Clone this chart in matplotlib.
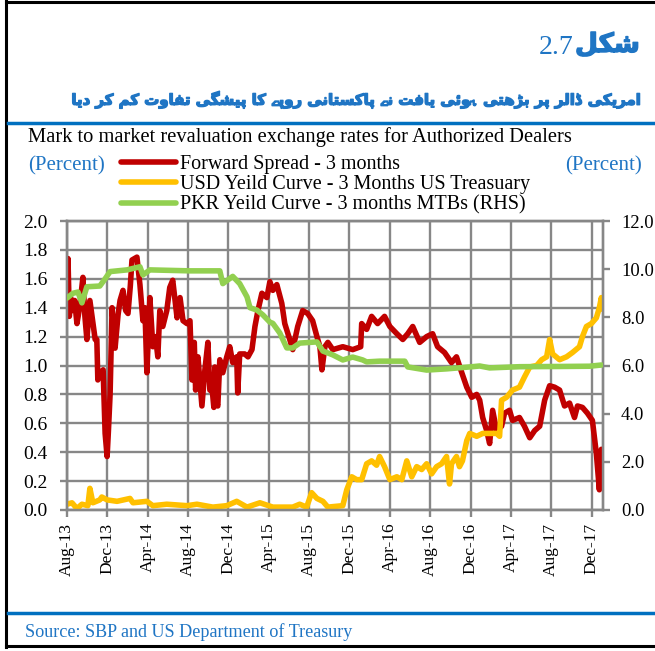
import matplotlib
matplotlib.use("Agg")
import matplotlib.pyplot as plt
import matplotlib.dates as mdates
import matplotlib.patheffects as pe
import pandas as pd
from matplotlib.lines import Line2D
from matplotlib import font_manager as fm
from matplotlib.ft2font import FT2Font

# ---------------- data ----------------
fwd_dates = [
    "2013-08-01", "2013-08-04", "2013-08-08", "2013-08-12", "2013-08-16", "2013-08-24",
    "2013-08-31", "2013-09-08", "2013-09-18", "2013-09-24", "2013-09-30", "2013-10-09",
    "2013-10-18", "2013-10-25", "2013-10-30", "2013-11-02", "2013-11-10", "2013-11-18",
    "2013-11-24", "2013-11-30", "2013-12-04", "2013-12-09", "2013-12-15", "2013-12-24",
    "2014-01-02", "2014-01-08", "2014-01-17", "2014-01-25", "2014-02-01", "2014-02-08",
    "2014-02-13", "2014-02-28", "2014-03-09", "2014-03-18", "2014-03-24", "2014-03-30",
    "2014-04-08", "2014-04-17", "2014-04-25", "2014-05-02", "2014-05-08", "2014-05-17",
    "2014-05-29", "2014-06-07", "2014-06-16", "2014-06-29", "2014-07-08", "2014-07-17",
    "2014-07-29", "2014-08-07", "2014-08-13", "2014-08-17", "2014-08-20", "2014-08-24",
    "2014-08-31", "2014-09-12", "2014-09-21", "2014-09-30", "2014-10-06", "2014-10-12",
    "2014-10-18", "2014-10-21", "2014-10-26", "2014-10-30", "2014-11-05", "2014-11-14",
    "2014-11-26", "2014-12-05", "2014-12-14", "2014-12-26", "2014-12-29", "2015-01-04",
    "2015-01-19", "2015-01-29", "2015-02-10", "2015-02-19", "2015-02-28", "2015-03-12",
    "2015-03-27", "2015-04-05", "2015-04-14", "2015-04-26", "2015-05-11", "2015-05-20",
    "2015-06-04", "2015-06-13", "2015-06-28", "2015-07-13", "2015-07-28", "2015-08-12",
    "2015-08-25", "2015-09-03", "2015-09-09", "2015-09-18", "2015-09-27", "2015-10-12",
    "2015-11-11", "2015-12-11", "2016-01-04", "2016-01-07", "2016-01-22", "2016-02-06",
    "2016-02-24", "2016-03-16", "2016-04-01", "2016-04-22", "2016-05-10", "2016-05-25",
    "2016-06-09", "2016-06-30", "2016-07-21", "2016-08-08", "2016-08-23", "2016-09-13",
    "2016-10-04", "2016-10-19", "2016-11-04", "2016-11-19", "2016-12-04", "2016-12-19",
    "2016-12-28", "2017-01-06", "2017-01-18", "2017-01-27", "2017-02-05", "2017-02-17",
    "2017-03-04", "2017-03-13", "2017-03-28", "2017-04-06", "2017-04-27", "2017-05-12",
    "2017-05-28", "2017-06-12", "2017-06-27", "2017-07-12", "2017-07-27", "2017-08-11",
    "2017-08-26", "2017-09-10", "2017-09-25", "2017-10-10", "2017-10-19", "2017-11-03",
    "2017-11-18", "2017-12-03", "2017-12-15", "2017-12-24", "2017-12-30",
]
fwd_vals = [
    1.55, 1.74, 1.34, 1.47, 1.38, 1.45,
    1.29, 1.40, 1.61, 1.34, 1.18, 1.45,
    1.30, 1.18, 1.18, 0.90, 0.95, 0.97,
    0.53, 0.37, 0.55, 0.80, 1.40, 1.12,
    1.35, 1.45, 1.52, 1.38, 1.36, 1.55,
    1.73, 1.75, 1.56, 1.31, 1.40, 0.95,
    1.47, 1.13, 1.20, 1.06, 1.38, 1.27,
    1.38, 1.54, 1.59, 1.33, 1.47, 1.31,
    1.29, 1.31, 0.90, 1.09, 1.16, 0.83,
    1.06, 0.72, 0.97, 1.16, 0.83, 0.86,
    0.71, 0.99, 0.74, 0.72, 1.04, 0.95,
    1.06, 1.13, 1.02, 1.06, 0.81, 1.08,
    1.08, 1.06, 1.11, 1.27, 1.38, 1.50,
    1.47, 1.58, 1.52, 1.56, 1.43, 1.29,
    1.18, 1.11, 1.27, 1.38, 1.36, 1.31,
    1.20, 1.13, 0.97, 1.13, 1.16, 1.11,
    1.13, 1.11, 1.13, 1.29, 1.25, 1.34,
    1.29, 1.34, 1.27, 1.22, 1.18, 1.22,
    1.27, 1.16, 1.20, 1.22, 1.13, 1.09,
    1.02, 1.06, 0.95, 0.85, 0.78, 0.80,
    0.76, 0.64, 0.55, 0.46, 0.69, 0.55,
    0.58, 0.67, 0.69, 0.62, 0.64, 0.58,
    0.50, 0.55, 0.58, 0.76, 0.86, 0.85,
    0.83, 0.72, 0.74, 0.64, 0.72, 0.71,
    0.67, 0.62, 0.39, 0.14, 0.42,
]

usd_dates = [
    "2013-08-01", "2013-08-16", "2013-08-31", "2013-09-15", "2013-10-03", "2013-10-09",
    "2013-10-18", "2013-11-08", "2013-11-14", "2013-11-30", "2013-12-30", "2014-02-07",
    "2014-02-16", "2014-03-30", "2014-04-17", "2014-05-29", "2014-07-29", "2014-08-28",
    "2014-10-15", "2014-11-26", "2014-12-26", "2015-01-26", "2015-03-06", "2015-04-14",
    "2015-06-13", "2015-07-04", "2015-07-25", "2015-08-09", "2015-08-25", "2015-09-12",
    "2015-09-27", "2015-11-11", "2015-11-23", "2015-12-08", "2015-12-23", "2016-01-07",
    "2016-01-22", "2016-02-06", "2016-02-21", "2016-03-01", "2016-03-16", "2016-04-01",
    "2016-04-22", "2016-05-07", "2016-05-22", "2016-06-06", "2016-06-21", "2016-07-06",
    "2016-07-21", "2016-08-05", "2016-08-20", "2016-09-04", "2016-09-19", "2016-09-28",
    "2016-10-04", "2016-10-19", "2016-10-28", "2016-11-06", "2016-11-19", "2016-11-28",
    "2016-12-19", "2017-01-06", "2017-01-27", "2017-02-17", "2017-02-26", "2017-03-04",
    "2017-03-19", "2017-04-06", "2017-04-27", "2017-05-12", "2017-05-28", "2017-06-18",
    "2017-07-03", "2017-07-18", "2017-07-27", "2017-08-05", "2017-08-26", "2017-09-16",
    "2017-10-04", "2017-10-25", "2017-11-03", "2017-11-15", "2017-11-30", "2017-12-15",
    "2017-12-24", "2017-12-30", "2018-01-02",
]
usd_vals = [
    0.04, 0.05, 0.01, 0.04, 0.03, 0.15,
    0.05, 0.07, 0.09, 0.07, 0.06, 0.08,
    0.05, 0.06, 0.03, 0.04, 0.03, 0.04,
    0.02, 0.03, 0.06, 0.02, 0.05, 0.02,
    0.02, 0.04, 0.02, 0.12, 0.08, 0.06,
    0.02, 0.03, 0.14, 0.23, 0.21, 0.21,
    0.32, 0.34, 0.31, 0.37, 0.30, 0.21,
    0.23, 0.21, 0.34, 0.23, 0.30, 0.28,
    0.32, 0.25, 0.30, 0.32, 0.37, 0.18,
    0.32, 0.37, 0.30, 0.34, 0.48, 0.53,
    0.51, 0.53, 0.53, 0.53, 0.51, 0.76,
    0.78, 0.83, 0.85, 0.92, 0.99, 1.00,
    1.04, 1.06, 1.18, 1.08, 1.04, 1.06,
    1.09, 1.13, 1.20, 1.27, 1.29, 1.33,
    1.40, 1.47, 1.39,
]

pkr_dates = [
    "2013-08-01", "2013-08-19", "2013-09-03", "2013-09-15", "2013-09-30", "2013-11-08",
    "2013-11-24", "2013-12-09", "2014-01-29", "2014-03-09", "2014-03-18", "2014-04-08",
    "2014-06-07", "2014-08-07", "2014-11-05", "2014-11-14", "2014-12-14", "2015-01-04",
    "2015-01-26", "2015-02-04", "2015-02-25", "2015-03-15", "2015-04-05", "2015-04-14",
    "2015-05-05", "2015-05-26", "2015-06-13", "2015-07-04", "2015-08-25", "2015-09-12",
    "2015-10-12", "2015-11-11", "2015-12-11", "2016-01-10", "2016-01-22", "2016-03-01",
    "2016-05-16", "2016-05-25", "2016-07-21", "2016-09-19", "2016-11-28", "2016-12-28",
    "2017-01-27", "2017-04-27", "2017-08-26", "2017-11-24", "2017-12-30",
]
pkr_vals = [
    8.80, 9.00, 9.05, 8.60, 9.27, 9.30,
    9.60, 9.90, 9.97, 10.10, 9.76, 9.97,
    9.95, 9.93, 9.93, 9.40, 9.70, 9.40,
    8.85, 8.40, 8.30, 8.10, 7.80, 7.75,
    7.35, 6.73, 6.73, 6.93, 6.98, 6.60,
    6.44, 6.23, 6.35, 6.23, 6.15, 6.18,
    6.18, 5.94, 5.81, 5.86, 5.94, 5.98,
    5.90, 5.95, 5.96, 5.97, 6.02,
]

left_ticks = [0.0, 0.2, 0.4, 0.6, 0.8, 1.0, 1.2, 1.4, 1.6, 1.8, 2.0]
right_ticks = [0, 2, 4, 6, 8, 10, 12]
x_start, x_end = "2013-08-01", "2018-01-04"

labels = ["Forward Spread - 3 months",
          "USD Yeild Curve - 3 Months US Treasuary",
          "PKR Yeild Curve - 3 months MTBs (RHS)"]

title_en = "Mark to market revaluation exchange rates for Authorized Dealers"
fig_no = "2.7"
urdu_fig = "شکل"
urdu_title = "امریکی ڈالر پر بڑھتی ہوئی یافت نے پاکستانی روپے کا پیشگی تفاوت کم کر دیا"
source = "Source: SBP and US Department of Treasury"

# ---------------- style ----------------
RED, YEL, GRN = "#C00000", "#FFC000", "#92D050"
GRID = "#878787"
BLUE = "#1F75C4"
SERIF = "Liberation Serif"
plt.rcParams["font.family"] = [SERIF, "DejaVu Serif"]

W, H = 655, 651
def fx(p): return p / W
def fy(p): return 1 - p / H

fig = plt.figure(figsize=(W / 100, H / 100), dpi=100)
fig.patch.set_facecolor("white")

# ---------------- Urdu shaping (contextual forms, RTL order) ----------------
FORMS = {
    "\u0627": ("\uFE8D", "\uFE8E", None, None),
    "\u0628": ("\uFE8F", "\uFE90", "\uFE91", "\uFE92"),
    "\u067E": ("\uFB56", "\uFB57", "\uFB58", "\uFB59"),
    "\u062A": ("\uFE95", "\uFE96", "\uFE97", "\uFE98"),
    "\u062F": ("\uFEA9", "\uFEAA", None, None),
    "\u0688": ("\uFB88", "\uFB89", None, None),
    "\u0631": ("\uFEAD", "\uFEAE", None, None),
    "\u0691": ("\uFB8C", "\uFB8D", None, None),
    "\u0633": ("\uFEB1", "\uFEB2", "\uFEB3", "\uFEB4"),
    "\u0634": ("\uFEB5", "\uFEB6", "\uFEB7", "\uFEB8"),
    "\u0641": ("\uFED1", "\uFED2", "\uFED3", "\uFED4"),
    "\u06A9": ("\uFB8E", "\uFB8F", "\uFB90", "\uFB91"),
    "\u06AF": ("\uFB92", "\uFB93", "\uFB94", "\uFB95"),
    "\u0644": ("\uFEDD", "\uFEDE", "\uFEDF", "\uFEE0"),
    "\u0645": ("\uFEE1", "\uFEE2", "\uFEE3", "\uFEE4"),
    "\u0646": ("\uFEE5", "\uFEE6", "\uFEE7", "\uFEE8"),
    "\u0648": ("\uFEED", "\uFEEE", None, None),
    "\u06C1": ("\uFBA6", "\uFBA7", "\uFBA8", "\uFBA9"),
    "\u06BE": ("\uFBAA", "\uFBAB", "\uFBAC", "\uFBAD"),
    "\u06CC": ("\uFBFC", "\uFBFD", "\uFBFE", "\uFBFF"),
    "\u06D2": ("\uFBAE", "\uFBAF", None, None),
    "\u0626": ("\uFE89", "\uFE8A", "\uFE8B", "\uFE8C"),
}
NORMAL = {"\u064A": "\u06CC", "\u0643": "\u06A9", "\u0647": "\u06C1"}


def _load(path):
    try:
        return FT2Font(path)
    except Exception:
        return None


def _cov(ft, chars):
    return sum(1 for c in chars if ft.get_char_index(ord(c)) != 0)


all_forms = [g for f in FORMS.values() for g in f if g] + list(FORMS.keys())
cands = []
for w in ("bold", "normal"):
    p = fm.findfont(fm.FontProperties(family="DejaVu Sans", weight=w))
    ft = _load(p)
    if ft is not None:
        cands.append((_cov(ft, all_forms), w, p, ft))
cands.sort(key=lambda t: -t[0])
URDU_WEIGHT = cands[0][1]
urdu_fonts = [cands[0][3]]
urdu_families = ["DejaVu Sans"]
seen = set()
for entry in fm.fontManager.ttflist:
    if entry.name in seen or entry.name == "DejaVu Sans":
        continue
    ft = _load(entry.fname)
    if ft is None:
        continue
    if ft.get_char_index(0x06C1) and ft.get_char_index(0x06D2):
        seen.add(entry.name)
        urdu_families.append(entry.name)
        urdu_fonts.append(ft)


def _has(c):
    return any(ft.get_char_index(ord(c)) != 0 for ft in urdu_fonts)


def shape_rtl(text):
    text = "".join(NORMAL.get(c, c) for c in text)
    out = []
    n = len(text)
    for i, ch in enumerate(text):
        f = FORMS.get(ch)
        if f is None:
            out.append(ch)
            continue
        prev = text[i - 1] if i > 0 else None
        nxt = text[i + 1] if i < n - 1 else None
        jp = prev in FORMS and FORMS[prev][2] is not None
        jn = nxt in FORMS and f[2] is not None
        if jp and jn:
            g = f[3]
        elif jp:
            g = f[1]
        elif jn:
            g = f[2]
        else:
            g = f[0]
        out.append(g if _has(g) else ch)
    return "".join(reversed(out))


bold_fx = [pe.withStroke(linewidth=1.0, foreground=BLUE)]

# ---------------- frame, rules ----------------
for xs, ys, col, lw in [
    ([fx(6), fx(6)], [fy(0), fy(647)], "black", 2.2),
    ([fx(6), 1], [fy(2), fy(2)], "black", 2.2),
    ([fx(6), 1], [fy(646), fy(646)], "black", 2.2),
    ([fx(8), 1], [fy(123), fy(123)], "#0070C0", 2.5),
    ([fx(8), 1], [fy(613), fy(613)], "#0070C0", 2.5),
]:
    fig.add_artist(Line2D(xs, ys, color=col, lw=lw, transform=fig.transFigure))

# ---------------- header texts ----------------
r = fig.canvas.get_renderer()
t_fig = fig.text(fx(640), fy(45), shape_rtl(urdu_fig), color=BLUE, fontsize=19,
                 family=urdu_families, weight=URDU_WEIGHT, ha="right", va="center",
                 path_effects=bold_fx)
bb = t_fig.get_window_extent(r)
fig.text((bb.x0 - 2) / W, fy(48), fig_no, color=BLUE, fontsize=20, family=SERIF,
         ha="right", va="center")

ut = fig.text(fx(640), fy(100), shape_rtl(urdu_title), color=BLUE, fontsize=16,
              family=urdu_families, weight=URDU_WEIGHT, ha="right", va="center",
              path_effects=bold_fx)
wpx = ut.get_window_extent(r).width
ut.set_fontsize(16 * (640 - 70) / wpx)

fig.text(fx(28), fy(137), title_en, fontsize=14.8, ha="left", va="center")
fig.text(fx(28), fy(166), "(Percent)", fontsize=15, color=BLUE, ha="left", va="center")
fig.text(fx(565), fy(166), "(Percent)", fontsize=15, color=BLUE, ha="left", va="center")
fig.text(fx(25), fy(632), source, fontsize=13.1, color=BLUE, ha="left", va="center")

# ---------------- axes ----------------
ax = fig.add_axes([fx(67), fy(510), fx(603) - fx(67), fy(221) - fy(510)])
d_fwd = pd.to_datetime(fwd_dates)
d_usd = pd.to_datetime(usd_dates)
d_pkr = pd.to_datetime(pkr_dates)

LW = 4.0
l1, = ax.plot(d_fwd, fwd_vals, color=RED, lw=LW, solid_joinstyle="round",
              solid_capstyle="round", zorder=3)
l2, = ax.plot(d_usd, usd_vals, color=YEL, lw=LW, solid_joinstyle="round",
              solid_capstyle="round", zorder=4)
ax.set_ylim(0, 2.0)
ax.set_yticks(left_ticks)
ax.set_yticklabels([f"{v:.1f}" for v in left_ticks])
ax.set_xlim(pd.Timestamp(x_start), pd.Timestamp(x_end))
ax.xaxis.set_major_locator(mdates.MonthLocator(bymonth=[4, 8, 12]))
ax.xaxis.set_major_formatter(mdates.DateFormatter("%b-%y"))
ax.grid(True, color=GRID, lw=1.7)
ax.set_axisbelow(True)
for s in ax.spines.values():
    s.set_color(GRID)
    s.set_linewidth(1.7)
ax.tick_params(axis="y", direction="out", length=5, width=1.7, color=GRID,
               pad=9, labelsize=14)
ax.tick_params(axis="x", direction="out", length=5, width=1.7, color=GRID,
               pad=4, labelsize=12.5, labelrotation=90)

ax2 = ax.twinx()
l3, = ax2.plot(d_pkr, pkr_vals, color=GRN, lw=LW, solid_joinstyle="round",
               solid_capstyle="round", zorder=5)
ax2.set_ylim(0, 12)
ax2.set_yticks(right_ticks)
ax2.set_yticklabels([f"{v:.1f}" for v in right_ticks])
for s in ax2.spines.values():
    s.set_color(GRID)
    s.set_linewidth(1.7)
ax2.tick_params(axis="y", direction="out", length=5, width=1.7, color=GRID,
                pad=8, labelsize=13.3)

fig.legend([l1, l2, l3], labels, loc="upper left",
           bbox_to_anchor=(fx(121), fy(155)), frameon=False, fontsize=14.5,
           handlelength=2.75, handletextpad=0.2, labelspacing=0.06,
           borderpad=0, borderaxespad=0)

fig.savefig("out.png", dpi=100, facecolor="white")
